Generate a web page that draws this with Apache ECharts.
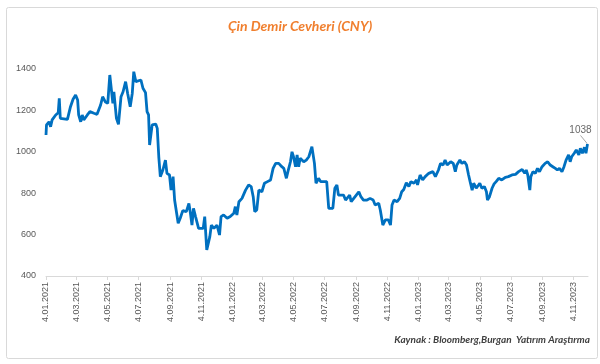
<!DOCTYPE html>
<html><head><meta charset="utf-8">
<script src="https://cdn.jsdelivr.net/npm/echarts@6/dist/echarts.min.js"></script>
<style>html,body{margin:0;padding:0;background:#fff}#c{width:600px;height:364px}</style>
</head><body><div id="c"></div>
<script>
const titleText = 'Çin Demir Cevheri (CNY)';
const sourceText = 'Kaynak : Bloomberg,Burgan  Yatırım Araştırma';
const tickDates = ['2021-01-04','2021-03-04','2021-05-04','2021-07-04','2021-09-04','2021-11-04',
  '2022-01-04','2022-03-04','2022-05-04','2022-07-04','2022-09-04','2022-11-04',
  '2023-01-04','2023-03-04','2023-05-04','2023-07-04','2023-09-04','2023-11-04'];
const yTicks = [400, 600, 800, 1000, 1200, 1400];
const dates = [
 '2021-01-04','2021-01-05','2021-01-10','2021-01-13','2021-01-16','2021-01-23','2021-01-28','2021-01-30',
 '2021-02-01','2021-02-15','2021-02-21','2021-02-26','2021-03-03','2021-03-07','2021-03-09','2021-03-13',
 '2021-03-16','2021-03-19','2021-03-26','2021-03-31','2021-04-08','2021-04-14','2021-04-21','2021-04-25',
 '2021-04-30','2021-05-05','2021-05-09','2021-05-12','2021-05-15','2021-05-17','2021-05-22','2021-05-26',
 '2021-05-31','2021-06-04','2021-06-09','2021-06-13','2021-06-18','2021-06-22','2021-06-25','2021-06-27',
 '2021-06-29','2021-07-02','2021-07-09','2021-07-13','2021-07-18','2021-07-21','2021-07-24','2021-07-26',
 '2021-07-31','2021-08-07','2021-08-10','2021-08-13','2021-08-16','2021-08-21','2021-08-26','2021-08-29',
 '2021-09-03','2021-09-06','2021-09-10','2021-09-13','2021-09-17','2021-09-20','2021-09-24','2021-09-29',
 '2021-10-06','2021-10-11','2021-10-14','2021-10-17','2021-10-20','2021-10-24','2021-10-30','2021-11-08',
 '2021-11-11','2021-11-15','2021-11-21','2021-11-24','2021-11-29','2021-12-05','2021-12-10','2021-12-13',
 '2021-12-18','2021-12-25','2021-12-31','2022-01-07','2022-01-10','2022-01-13','2022-01-17','2022-01-23',
 '2022-01-30','2022-02-05','2022-02-10','2022-02-14','2022-02-17','2022-02-21','2022-02-25','2022-03-03',
 '2022-03-08','2022-03-14','2022-03-20','2022-03-25','2022-03-30','2022-04-05','2022-04-11','2022-04-15',
 '2022-04-20','2022-04-23','2022-04-28','2022-05-01','2022-05-04','2022-05-08','2022-05-11','2022-05-14',
 '2022-05-17','2022-05-24','2022-05-29','2022-06-03','2022-06-09','2022-06-14','2022-06-17','2022-06-22',
 '2022-06-26','2022-07-08','2022-07-12','2022-07-15','2022-07-20','2022-07-24','2022-07-28','2022-07-31',
 '2022-08-10','2022-08-14','2022-08-17','2022-08-22','2022-08-25','2022-08-30','2022-09-04','2022-09-09',
 '2022-09-13','2022-09-18','2022-09-25','2022-10-01','2022-10-07','2022-10-11','2022-10-18','2022-10-21',
 '2022-10-26','2022-10-31','2022-11-06','2022-11-10','2022-11-13','2022-11-17','2022-11-23','2022-11-28',
 '2022-12-02','2022-12-06','2022-12-11','2022-12-16','2022-12-20','2022-12-26','2022-12-31','2023-01-02',
 '2023-01-07','2023-01-12','2023-01-17','2023-01-24','2023-01-27','2023-02-01','2023-02-06','2023-02-12',
 '2023-02-16','2023-02-21','2023-02-25','2023-03-01','2023-03-08','2023-03-13','2023-03-17','2023-03-20',
 '2023-03-26','2023-03-30','2023-04-04','2023-04-08','2023-04-12','2023-04-15','2023-04-19','2023-04-22',
 '2023-04-27','2023-05-04','2023-05-08','2023-05-13','2023-05-17','2023-05-19','2023-05-23','2023-05-28',
 '2023-06-01','2023-06-05','2023-06-10','2023-06-16','2023-06-23','2023-06-29','2023-07-06','2023-07-13',
 '2023-07-19','2023-07-26','2023-07-31','2023-08-03','2023-08-06','2023-08-10','2023-08-12','2023-08-16',
 '2023-08-21','2023-08-25','2023-08-29','2023-09-03','2023-09-09','2023-09-14','2023-09-19','2023-09-24',
 '2023-09-29','2023-10-03','2023-10-07','2023-10-12','2023-10-16','2023-10-20','2023-10-25','2023-10-28',
 '2023-10-31','2023-11-05','2023-11-09','2023-11-14','2023-11-17','2023-11-21','2023-11-25','2023-11-28',
 '2023-12-01'];
const values = [
 1081,1130,1145,1121,1154,1178,1189,1258,
 1162,1157,1218,1254,1274,1250,1178,1145,
 1178,1154,1178,1194,1186,1181,1226,1266,
 1242,1234,1371,1379,1234,1290,1162,1133,
 1266,1290,1339,1282,1218,1282,1387,1382,
 1339,1347,1347,1307,1286,1194,1178,1033,
 1130,1134,1113,976,880,912,960,896,
 888,815,880,767,703,655,679,716,
 711,751,703,646,727,687,630,630,
 687,526,590,646,630,646,598,687,
 695,679,687,703,735,695,759,775,
 815,840,832,783,711,719,815,807,
 848,856,864,920,944,944,928,920,
 872,904,952,1000,976,928,985,928,
 969,952,960,976,1025,944,848,872,
 856,856,727,719,727,824,840,791,
 791,767,767,791,759,775,791,807,
 783,767,767,775,767,743,751,719,
 646,671,671,646,743,767,759,775,
 807,818,850,832,856,848,864,840,
 888,864,880,896,888,904,880,912,
 944,936,960,936,952,944,904,936,
 960,944,952,936,888,856,815,848,
 824,848,824,832,807,767,783,824,
 845,856,872,864,877,880,888,891,
 904,915,896,912,888,815,880,904,
 896,920,904,928,944,952,936,928,
 920,912,920,904,928,960,985,952,
 976,993,1009,985,1017,993,1022,993,
 1038];
const lastLabel = '1038';
const xMin = '2021-01-04';
const xMax = '2023-12-02';

function ts(s){ const p = s.split('-').map(Number); return Date.UTC(p[0], p[1]-1, p[2]); }
function fmt(v){ const d = new Date(v); const m = d.getUTCMonth()+1; return d.getUTCDate() + '.' + (m<10?'0':'') + m + '.' + d.getUTCFullYear(); }

const seriesData = dates.map((d, i) => [ts(d), values[i]]);
const lastPoint = seriesData[seriesData.length - 1];
const tickTs = tickDates.map(ts);

const chart = echarts.init(document.getElementById('c'), null, { renderer: 'canvas' });
chart.setOption({
  animation: false,
  backgroundColor: '#ffffff',
  title: {
    text: titleText, left: 'center', top: 14,
    textStyle: { color: '#F07F2E', fontSize: 14, fontStyle: 'italic', fontWeight: 'bold', fontFamily: 'Lato' }
  },
  graphic: [
    { type: 'rect', left: 4, top: 5, shape: { width: 591, height: 351, r: 2 }, style: { fill: 'none', stroke: '#d9d9d9', lineWidth: 1 }, silent: true, z: -1 },
    { type: 'text', right: 10, top: 335, style: { text: sourceText, fill: '#404040', font: 'italic bold 10px Lato' } }
  ],
  grid: { left: 46, right: 12, top: 69, bottom: 88, containLabel: false },
  xAxis: {
    type: 'value', min: ts(xMin), max: ts(xMax),
    axisLine: { show: true, lineStyle: { color: '#d9d9d9', width: 1 } },
    axisTick: { show: true, customValues: tickTs, length: 4, lineStyle: { color: '#d9d9d9' } },
    axisLabel: { customValues: tickTs, rotate: 90, margin: 6, formatter: fmt, color: '#595959', fontSize: 9, fontFamily: 'Liberation Sans', showMinLabel: true, showMaxLabel: true },
    splitLine: { show: false }
  },
  yAxis: {
    type: 'value', min: yTicks[0], max: yTicks[yTicks.length-1], interval: 200,
    axisLine: { show: false }, axisTick: { show: false },
    axisLabel: { color: '#595959', fontSize: 9, fontFamily: 'Liberation Sans', margin: 10, formatter: v => String(v) },
    splitLine: { show: false }
  },
  series: [{
    type: 'line', data: seriesData, symbol: 'none', showSymbol: false,
    lineStyle: { color: '#0070C0', width: 2.8 },
    itemStyle: { color: '#0070C0' }
  }, {
    type: 'scatter', data: [lastPoint], symbolSize: 1,
    itemStyle: { color: 'rgba(0,0,0,0)' },
    label: { show: true, position: 'top', formatter: lastLabel, color: '#404040', fontSize: 10, fontFamily: 'Liberation Sans', distance: 2 },
    labelLayout: { dx: -7, dy: -6 },
    labelLine: { show: true, lineStyle: { color: '#a6a6a6', width: 1 } },
    z: 5
  }]
});
</script></body></html>
